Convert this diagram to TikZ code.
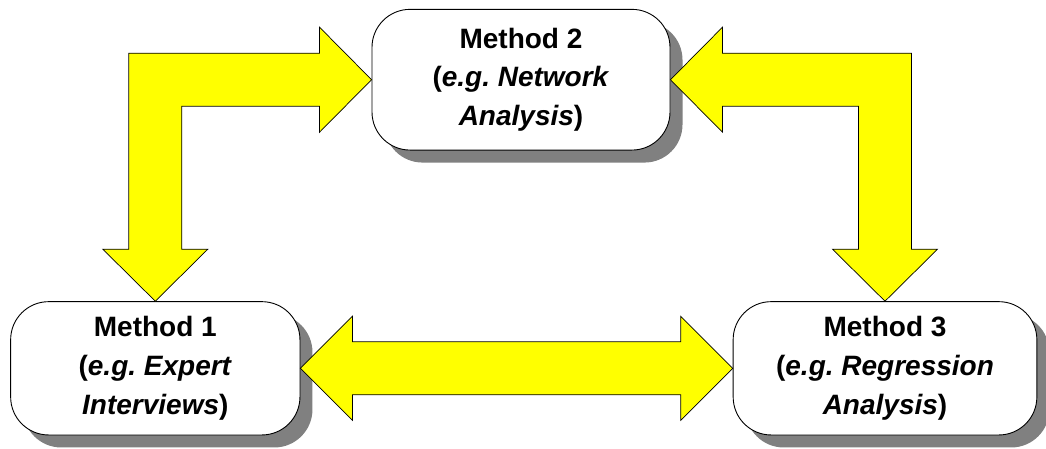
\documentclass[tikz,border=0pt]{standalone}
\usepackage{fontspec}
\setmainfont{Liberation Sans}
\frenchspacing
\usetikzlibrary{calc,shadows}
\definecolor{arrowyellow}{RGB}{255,255,0}
\definecolor{shadowgray}{RGB}{128,128,128}
\tikzset{
  methodbox/.style={draw=black, line width=0.9pt, fill=white, rounded corners=38pt,
    inner sep=0pt, align=center,
    font=\fontsize{28}{38.7}\selectfont\bfseries\frenchspacing,
    drop shadow={shadow xshift=12.5pt, shadow yshift=-12.5pt, fill=shadowgray, opacity=1}},
  blockarrow/.style={draw=black, line width=0.7pt, fill=arrowyellow, line join=miter}
}
\begin{document}
\begin{tikzpicture}[x=1pt,y=-1pt]
\useasboundingbox (0,0) rectangle (1046,448);
\node[methodbox, minimum width=289.3pt, minimum height=133.3pt] (m1) at (155.3,368.3)
  {Method 1\\(\textit{e.g. Expert}\\\textit{Interviews})};
\node[methodbox, minimum width=298pt, minimum height=140.7pt] (m2) at (521,79.7)
  {Method 2\\(\textit{e.g. Network}\\\textit{Analysis})};
\node[methodbox, minimum width=303.7pt, minimum height=133.3pt] (m3) at (885,368.3)
  {Method 3\\(\textit{e.g. Regression}\\\textit{Analysis})};
% bent arrow Method 1 <-> Method 2
\draw[blockarrow] (m2.west) -- ($(m2.west)+(-52,-52.5)$) -- ($(m2.west)+(-52,-26.5)$)
  -- ($(m1.north |- m2.west)+(-26.5,-26.5)$) -- ($(m1.north)+(-26.5,-52)$)
  -- ($(m1.north)+(-52.5,-52)$) -- (m1.north) -- ($(m1.north)+(52.5,-52)$)
  -- ($(m1.north)+(26.5,-52)$) -- ($(m1.north |- m2.west)+(26.5,26.5)$)
  -- ($(m2.west)+(-52,26.5)$) -- ($(m2.west)+(-52,52.5)$) -- cycle;
% bent arrow Method 2 <-> Method 3
\draw[blockarrow] (m2.east) -- ($(m2.east)+(52,-52.5)$) -- ($(m2.east)+(52,-26.5)$)
  -- ($(m3.north |- m2.east)+(26.5,-26.5)$) -- ($(m3.north)+(26.5,-52)$)
  -- ($(m3.north)+(52.5,-52)$) -- (m3.north) -- ($(m3.north)+(-52.5,-52)$)
  -- ($(m3.north)+(-26.5,-52)$) -- ($(m3.north |- m2.east)+(-26.5,26.5)$)
  -- ($(m2.east)+(52,26.5)$) -- ($(m2.east)+(52,52.5)$) -- cycle;
% double arrow Method 1 <-> Method 3
\draw[blockarrow] (m1.east) -- ($(m1.east)+(52,-52)$) -- ($(m1.east)+(52,-26.5)$)
  -- ($(m3.west)+(-52,-26.5)$) -- ($(m3.west)+(-52,-52)$) -- (m3.west)
  -- ($(m3.west)+(-52,52)$) -- ($(m3.west)+(-52,26.5)$)
  -- ($(m1.east)+(52,26.5)$) -- ($(m1.east)+(52,52)$) -- cycle;
\end{tikzpicture}
\end{document}
